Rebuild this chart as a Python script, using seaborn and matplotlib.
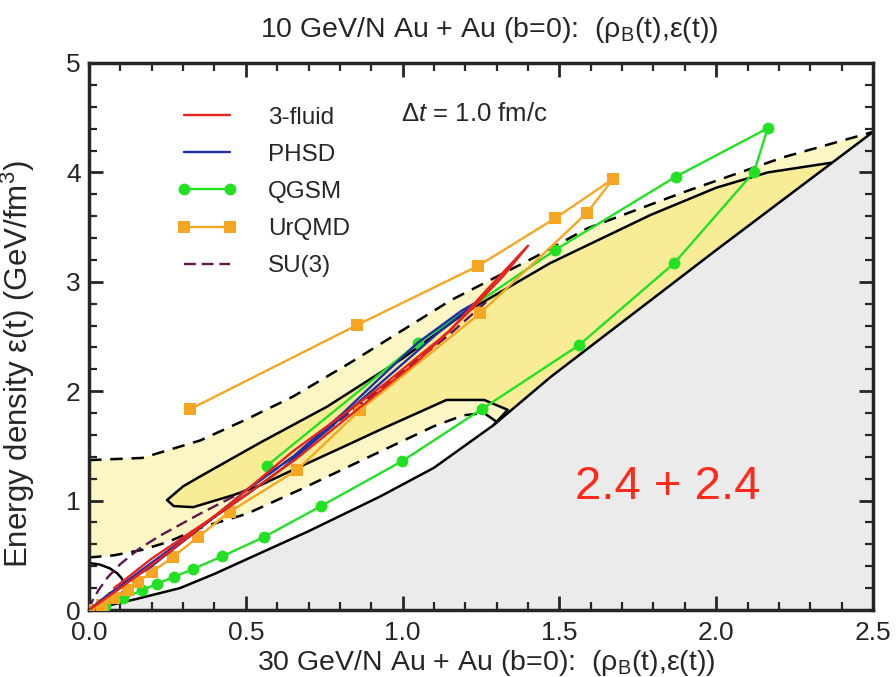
import numpy as np
import pandas as pd
import matplotlib
matplotlib.use("Agg")
import matplotlib.pyplot as plt
from matplotlib.ticker import MultipleLocator, FormatStrFormatter
import seaborn as sns

# ---- phase-diagram boundaries (rho_B, eps in GeV/fm^3) ----
gray_edge_rho = [0.0, 0.15, 0.29, 0.40, 0.546, 0.70, 0.93, 1.10, 1.29, 1.472, 2.0, 2.5]
gray_edge_eps = [0.0, 0.10, 0.20, 0.33, 0.52, 0.72, 1.04, 1.30, 1.69, 2.13, 3.29, 4.37]

upper_dash_rho = [0.0, 0.17, 0.355, 0.5, 0.65, 0.833, 1.153, 1.418, 1.59, 1.897, 2.216, 2.5]
upper_dash_eps = [1.37, 1.39, 1.55, 1.74, 1.95, 2.26, 2.83, 3.22, 3.49, 3.82, 4.14, 4.37]

lower_dash_rho = [0.0, 0.08, 0.17, 0.25, 0.364, 0.504, 0.673, 0.93, 1.10, 1.194, 1.26, 1.30]
lower_dash_eps = [0.48, 0.50, 0.55, 0.62, 0.76, 0.88, 1.10, 1.45, 1.68, 1.78, 1.80, 1.72]

upper_solid_rho = [0.249, 0.30, 0.354, 0.546, 0.76, 1.0, 1.2, 1.47, 1.79, 2.0, 2.165, 2.366]
upper_solid_eps = [1.005, 1.13, 1.22, 1.53, 1.86, 2.30, 2.72, 3.17, 3.61, 3.86, 4.0, 4.088]

lobe_lower_rho = [0.249, 0.27, 0.332, 0.46, 0.546, 0.65, 0.81, 0.93, 1.14, 1.26, 1.335, 1.29]
lobe_lower_eps = [1.005, 0.95, 0.94, 1.05, 1.14, 1.28, 1.49, 1.65, 1.92, 1.92, 1.83, 1.69]

arc_rho = [0.0, 0.035, 0.067, 0.09, 0.104, 0.113, 0.112, 0.102, 0.085, 0.062, 0.04]
arc_eps = [0.43, 0.415, 0.38, 0.335, 0.29, 0.24, 0.19, 0.14, 0.095, 0.055, 0.03]

# ---- trajectories ----
three_fluid_rho = [0.0, 0.03, 0.1, 0.25, 0.45, 0.65, 0.94, 1.15, 1.26, 1.40,
                   1.32, 1.22, 1.05, 0.85, 0.66, 0.50, 0.35, 0.20, 0.08]
three_fluid_eps = [0.0, 0.06, 0.2, 0.52, 0.97, 1.45, 2.06, 2.55, 2.90, 3.33,
                   3.05, 2.75, 2.28, 1.82, 1.38, 1.05, 0.76, 0.47, 0.20]

phsd_rho = [0.0, 0.03, 0.067, 0.195, 0.386, 0.504, 0.65, 0.81, 0.92, 1.047, 1.19, 1.24,
            1.12, 1.0, 0.88, 0.75, 0.62, 0.50, 0.40, 0.28, 0.17, 0.10]
phsd_eps = [0.0, 0.07, 0.155, 0.39, 0.82, 1.10, 1.40, 1.80, 2.10, 2.44, 2.74, 2.82,
            2.55, 2.25, 1.95, 1.62, 1.30, 1.05, 0.85, 0.60, 0.37, 0.22]

qgsm_rho = [0.0, 0.05, 0.11, 0.17, 0.216, 0.27, 0.332, 0.424, 0.558, 0.74, 0.998,
            1.253, 1.562, 1.866, 2.121, 2.164, 1.871, 1.486, 1.049, 0.568]
qgsm_eps = [0.0, 0.04, 0.11, 0.18, 0.24, 0.30, 0.375, 0.49, 0.667, 0.95, 1.36,
            1.837, 2.42, 3.17, 4.006, 4.403, 3.961, 3.29, 2.44, 1.32]

urqmd_rho = [0.0, 0.04, 0.08, 0.125, 0.157, 0.2, 0.269, 0.349, 0.45, 0.663, 0.865,
             1.247, 1.588, 1.671, 1.486, 1.24, 0.855, 0.322]
urqmd_eps = [0.0, 0.05, 0.11, 0.183, 0.26, 0.345, 0.487, 0.67, 0.90, 1.28, 1.83,
             2.712, 3.63, 3.94, 3.58, 3.144, 2.605, 1.835]

su3_rho = [0.0, 0.01, 0.03, 0.06, 0.10, 0.16, 0.227, 0.354, 0.504, 0.65, 0.82, 1.0, 1.15, 1.28]
su3_eps = [0.0, 0.08, 0.18, 0.30, 0.42, 0.56, 0.68, 0.88, 1.10, 1.40, 1.78, 2.18, 2.52, 2.85]

x_ticks = [0.0, 0.5, 1.0, 1.5, 2.0, 2.5]
y_ticks = [0, 1, 2, 3, 4, 5]

sns.set_style("ticks")
plt.rcParams["font.family"] = ["Liberation Sans", "DejaVu Sans"]
plt.rcParams["mathtext.fontset"] = "custom"
plt.rcParams["mathtext.rm"] = "Liberation Sans"
plt.rcParams["mathtext.it"] = "Liberation Sans:italic"
plt.rcParams["mathtext.sf"] = "Liberation Sans"

fig = plt.figure(figsize=(8.96, 6.77), dpi=100)
ax = fig.add_axes([89 / 896, 67 / 677, 784 / 896, 547 / 677])

LIGHT_YELLOW = "#fcf5c4"
DARK_YELLOW = "#f8ed96"
GRAY = "#ebebeb"

g_r = np.array(gray_edge_rho)
g_e = np.array(gray_edge_eps)

# region below the lower boundary
ax.fill(np.r_[g_r, 2.5, 0.0], np.r_[g_e, 0.0, 0.0], color=GRAY, lw=0, zorder=0)

# light band between the dashed curves (closed by the lower boundary)
sel = g_r >= 1.29
light_r = np.r_[upper_dash_rho, g_r[sel][::-1], lower_dash_rho[::-1]]
light_e = np.r_[upper_dash_eps, g_e[sel][::-1], lower_dash_eps[::-1]]
ax.fill(light_r, light_e, color=LIGHT_YELLOW, lw=0, zorder=0.5)

# darker band between the solid curves
sel2 = (g_r > 1.29) & (g_r < 2.366)
dark_r = np.r_[upper_solid_rho, g_r[sel2][::-1], lobe_lower_rho[::-1]]
dark_e = np.r_[upper_solid_eps, g_e[sel2][::-1], lobe_lower_eps[::-1]]
ax.fill(dark_r, dark_e, color=DARK_YELLOW, lw=0, zorder=0.6)

# boundary curves
kw_solid = dict(color="black", linewidth=1.8, zorder=2)
ax.plot(gray_edge_rho, gray_edge_eps, **kw_solid)
ax.plot(upper_solid_rho, upper_solid_eps, **kw_solid)
ax.plot(lobe_lower_rho, lobe_lower_eps, **kw_solid)
ax.plot(arc_rho, arc_eps, **kw_solid)
kw_dash = dict(color="black", linewidth=1.8, linestyle=(0, (5, 3.5)), zorder=2)
ax.plot(upper_dash_rho, upper_dash_eps, **kw_dash)
ax.plot(lower_dash_rho, lower_dash_eps, **kw_dash)

# trajectories
series = {
    "SU(3)": (su3_rho, su3_eps, dict(color="#5c1650", linestyle=(0, (5, 2.5)))),
    "QGSM": (qgsm_rho, qgsm_eps, dict(color="#22e022", marker="o", markersize=8.5,
                                      markeredgewidth=0)),
    "UrQMD": (urqmd_rho, urqmd_eps, dict(color="#f6a623", marker="s", markersize=9,
                                         markeredgewidth=0)),
    "PHSD": (phsd_rho, phsd_eps, dict(color="#1c2fa8")),
    "3-fluid": (three_fluid_rho, three_fluid_eps, dict(color="#e8231c")),
}
for z, (name, (r, e, style)) in enumerate(series.items()):
    df = pd.DataFrame({"rho": r, "eps": e})
    sns.lineplot(data=df, x="rho", y="eps", sort=False, estimator=None, ax=ax,
                 label=name, linewidth=1.7, zorder=3 + z, **style)

handles, labels = ax.get_legend_handles_labels()
order = ["3-fluid", "PHSD", "QGSM", "UrQMD", "SU(3)"]
hmap = dict(zip(labels, handles))
ax.legend([hmap[k] for k in order], order, loc="upper left",
          bbox_to_anchor=(0.112, 0.92), frameon=False, fontsize=17.5,
          handlelength=2.5, handletextpad=1.25, labelspacing=0.62,
          borderpad=0, borderaxespad=0, numpoints=2)

ax.text(1.228, 4.53, r"$\Delta t$ = 1.0 fm/c", fontsize=18.5, ha="center", va="center")
ax.text(1.846, 1.12, "2.4 + 2.4", fontsize=34, color="#ff2a1a", ha="center",
        va="center")

ax.set_xlim(0, 2.5)
ax.set_ylim(0, 5)
ax.set_xticks(x_ticks)
ax.set_yticks(y_ticks)
ax.xaxis.set_major_formatter(FormatStrFormatter("%.1f"))
ax.xaxis.set_minor_locator(MultipleLocator(0.1))
ax.yaxis.set_minor_locator(MultipleLocator(0.2))
ax.tick_params(which="both", direction="in", top=True, right=True, labelsize=19)
ax.tick_params(axis="x", which="major", pad=8)
ax.tick_params(axis="y", which="major", pad=6)
ax.tick_params(which="major", length=10, width=2)
ax.tick_params(which="minor", length=6, width=1.6)
for s in ax.spines.values():
    s.set_linewidth(2.5)

ax.set_xlabel("30 GeV/N Au + Au (b=0):  (ρ$_\\mathregular{B}$(t),ε(t))", fontsize=20.5)
ax.xaxis.set_label_coords(0.507, -0.07)
ax.set_ylabel("Energy density ε(t) (GeV/fm$^\\mathregular{3}$)", fontsize=22.5)
ax.yaxis.set_label_coords(-0.066, 0.45)

fig.text(489 / 896, 1 - 30 / 677, "10 GeV/N Au + Au (b=0):  (ρ$_\\mathregular{B}$(t),ε(t))",
         fontsize=20.5, ha="center", va="center")

fig.savefig("out.png", dpi=100)
